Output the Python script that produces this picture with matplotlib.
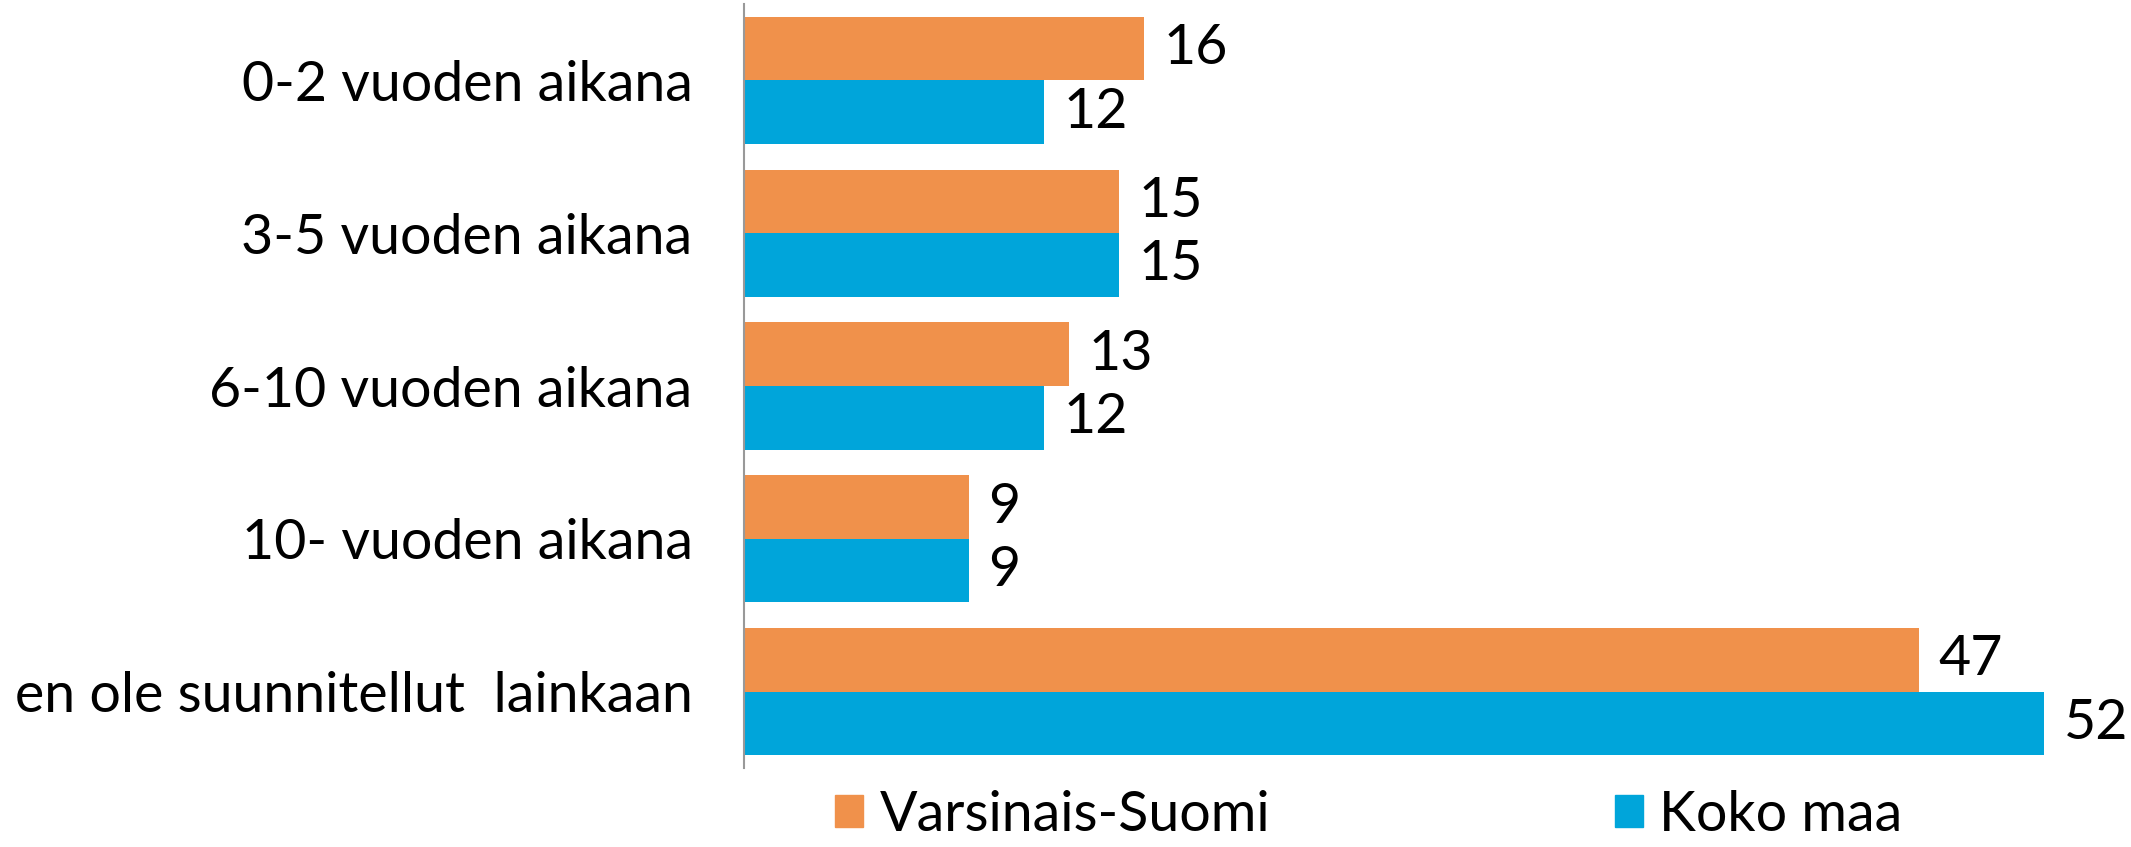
import matplotlib
matplotlib.use("Agg")
import matplotlib.pyplot as plt
import matplotlib.patches as mpatches
import numpy as np

categories = ["0-2 vuoden aikana", "3-5 vuoden aikana", "6-10 vuoden aikana",
              "10- vuoden aikana", "en ole suunnitellut  lainkaan"]
varsinais_suomi = [16, 15, 13, 9, 47]
koko_maa = [12, 15, 12, 9, 52]
series_names = ["Varsinais-Suomi", "Koko maa"]

ORANGE = "#F0914B"
BLUE = "#00A5DA"

plt.rcParams['font.family'] = ['Lato', 'DejaVu Sans']
FS = 40

W, H = 2131, 847
fig = plt.figure(figsize=(W / 100, H / 100), dpi=100)
ax = fig.add_axes([744 / W, 1 - 768 / H, 1 - 744 / W, (768 - 4) / H])

y = np.arange(len(categories))
h = 0.416
b1 = ax.barh(y - h / 2, varsinais_suomi, height=h, color=ORANGE, linewidth=0)
b2 = ax.barh(y + h / 2, koko_maa, height=h, color=BLUE, linewidth=0)
ax.bar_label(b1, padding=14, fontsize=FS)
ax.bar_label(b2, padding=14, fontsize=FS)

ax.set_xlim(0, (W - 744) / 25.0)
ax.set_ylim(len(categories) - 0.5, -0.5)
ax.set_yticks(y)
ax.set_yticklabels(categories, fontsize=FS)
ax.set_xticks([])
ax.tick_params(axis='y', length=0, pad=37)
for s in ['top', 'right', 'bottom']:
    ax.spines[s].set_visible(False)
ax.spines['left'].set_color('#999999')
ax.spines['left'].set_linewidth(1.5)

# legend: two separate entries placed like the original
for name, col, x0 in [(series_names[0], ORANGE, 835), (series_names[1], BLUE, 1615)]:
    handle = mpatches.Patch(color=col, label=name)
    fig.legend(handles=[handle], loc='center left', bbox_to_anchor=(x0 / W, 1 - 815 / H),
               frameon=False, fontsize=FS, borderpad=0, borderaxespad=0,
               handlelength=0.5, handleheight=0.5, handletextpad=0.3)

fig.savefig("out.png", dpi=100)
